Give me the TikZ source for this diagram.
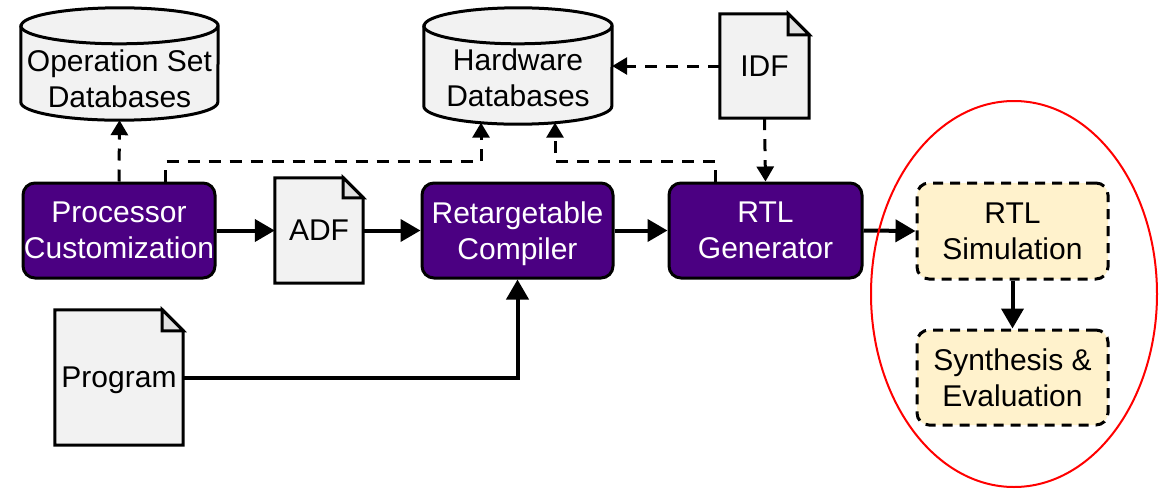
\documentclass[tikz,border=0pt]{standalone}
\usepackage{fontspec}
\setmainfont{Liberation Sans}
\usetikzlibrary{arrows.meta,calc,shapes.geometric}
\definecolor{purp}{RGB}{75,0,130}
\definecolor{docfill}{RGB}{242,242,242}
\definecolor{foldfill}{RGB}{224,224,224}
\definecolor{yel}{RGB}{255,242,204}
\pgfdeclarelayer{bg}
\pgfsetlayers{bg,main}
\newcommand\docshape[2]{%
  \path[shp] (#1.north west) -- ($(#1.north east)+(-#2,0)$) -- ($(#1.north east)+(0,#2)$) -- (#1.south east) -- (#1.south west) -- cycle;
  \path[shp, fill=foldfill] ($(#1.north east)+(-#2,0)$) -- ($(#1.north east)+(-#2,#2)$) -- ($(#1.north east)+(0,#2)$) -- cycle;}
\newcommand\cylshape[3]{%
  \path[shp] ($(#1.north west)+(0,#3)$) -- ($(#1.south west)+(0,-#3)$)
    arc[start angle=180,end angle=360,x radius=#2pt,y radius=#3pt]
    -- ($(#1.north east)+(0,#3)$)
    arc[start angle=0,end angle=180,x radius=#2pt,y radius=#3pt] -- cycle;
  \draw[line width=3pt] ($(#1.north west)+(0,#3)$) arc[start angle=180,end angle=360,x radius=#2pt,y radius=#3pt];}
\begin{document}
\begin{tikzpicture}[x=1pt,y=-1pt,
  every node/.style={font=\fontsize{30pt}{36pt}\selectfont, align=center, inner sep=0pt, text depth=0pt},
  pbox/.style={draw=black, line width=3pt, fill=purp, text=white, rounded corners=12pt},
  ybox/.style={draw=black, line width=3pt, fill=yel, rounded corners=12pt, dash pattern=on 10pt off 7pt},
  area/.style={draw=none},
  sol/.style={line width=4pt, -{Triangle[length=20pt,width=22pt]}},
  dsh/.style={line width=3pt, dash pattern=on 12pt off 9pt, -{Triangle[length=15pt,width=17pt]}},
  shp/.style={draw=black, line width=3pt, fill=docfill, line join=miter},
]
\useasboundingbox (0,0) rectangle (1168,488);

% process boxes
\node[pbox, minimum width=192pt, minimum height=95pt] (proc) at (119,230.5) {Processor\\Customization};
\node[pbox, minimum width=191pt, minimum height=95pt] (retarg) at (517.5,230.5) {Retargetable\\Compiler};
\node[pbox, minimum width=193pt, minimum height=95pt] (rtlg) at (765.5,230.5) {RTL\\Generator};
\node[ybox, minimum width=191pt, minimum height=96pt] (rtlsim) at (1012.5,231) {RTL\\Simulation};
\node[ybox, minimum width=191pt, minimum height=95pt] (synth) at (1012.5,377.5) {Synthesis \&\\Evaluation};

% documents
\node[area, minimum width=88pt, minimum height=105pt] (adf) at (319,230.5) {ADF};
\node[area, minimum width=128pt, minimum height=135pt] (prog) at (119,377.5) {Program};
\node[area, minimum width=89pt, minimum height=104pt] (idf) at (764.5,66) {IDF};

% databases
\node[area, minimum width=197pt, minimum height=112pt] (opdb) at (119.5,64) {};
\node (opdbt) at (119.5,79) {Operation Set\\Databases};
\node[area, minimum width=188pt, minimum height=116pt] (hwdb) at (518,66) {};
\node (hwdbt) at (518,78) {Hardware\\Databases};

\begin{pgfonlayer}{bg}
  \docshape{adf}{20}
  \docshape{prog}{21}
  \docshape{idf}{21}
  \cylshape{opdb}{98.5}{18}
  \cylshape{hwdb}{94}{18}
\end{pgfonlayer}

% solid connectors
\draw[sol] (proc.east) -- (adf.west);
\draw[sol] (adf.east) -- (retarg.west);
\draw[sol] (retarg.east) -- (rtlg.west);
\draw[sol] (rtlg.east) -- (rtlsim.west);
\draw[sol] (rtlsim.south) -- (synth.north);
\draw[sol] (prog.east) -| (retarg.south);

% dashed connectors
\draw[dsh] (proc.north) -- (opdb.south);
\draw[dsh] ($(proc.north west)+(144,0)$) -- ++(0,-20) -| ($(hwdb.south)+(-37,-1.5)$);
\draw[dsh] ($(rtlg.north west)+(48,0)$) -- ++(0,-20) -| ($(hwdb.south)+(37,-1.5)$);
\draw[dsh] (idf.south) -- (rtlg.north);
\draw[dsh] (idf.west) -- (hwdb.east);

% group ellipse
\node[draw=red, line width=2pt, ellipse, minimum width=286pt, minimum height=386pt] (grp) at (1014,294) {};
\end{tikzpicture}
\end{document}
